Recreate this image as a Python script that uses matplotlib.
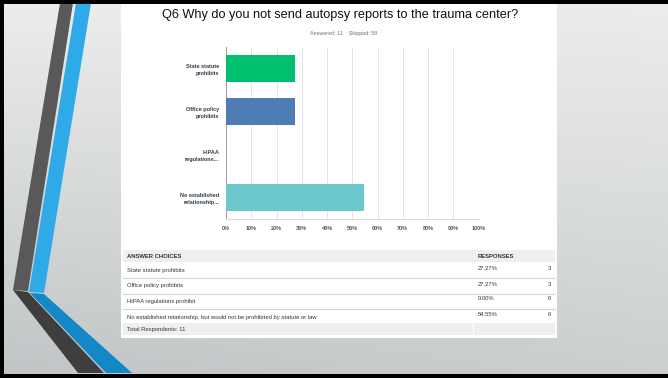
import numpy as np
import matplotlib
matplotlib.use("Agg")
import matplotlib.pyplot as plt
from matplotlib.patches import Polygon, Rectangle

# survey results
question = "Q6 Why do you not send autopsy reports to the trauma center?"
answered = 11
skipped = 58
choices = ["State statute prohibits",
           "Office policy prohibits",
           "HIPAA regulations prohibit",
           "No established relationship, but would not be prohibited by statute or law"]
short_labels = ["State statute\nprohibits", "Office policy\nprohibits",
                "HIPAA\nregulations...", "No established\nrelationship..."]
percents = [27.27, 27.27, 0.00, 54.55]
counts = [3, 3, 0, 6]
bar_colors = ["#00bf6f", "#507cb6", "#f9be00", "#6bc8cd"]
xticks = list(range(0, 101, 10))

W, H = 668, 378
plt.rcParams['font.family'] = ['Liberation Sans', 'DejaVu Sans']
fig = plt.figure(figsize=(W / 100, H / 100), dpi=100)

# slide canvas in pixel units
cv = fig.add_axes([0, 0, 1, 1])
cv.set_xlim(0, W)
cv.set_ylim(H, 0)
cv.axis("off")

# soft grey gradient background
yy, xx = np.mgrid[0:H, 0:W]
t = np.clip(0.75 * yy / H + 0.25 * (1 - xx / W) * yy / H, 0, 1)
top = np.array([0.925, 0.93, 0.93])
bot = np.array([0.755, 0.77, 0.775])
bg = top[None, None, :] * (1 - t[..., None]) + bot[None, None, :] * t[..., None]
cv.imshow(bg, extent=[0, W, H, 0], aspect="auto", zorder=0)

# decorative stripes on the left
cv.add_patch(Polygon([(60, 3), (73, 3), (28, 291), (13, 290)], closed=True,
                     fc="#595959", ec="none", zorder=1))
cv.add_patch(Polygon([(76, 3), (91, 3), (44, 293), (29, 292)], closed=True,
                     fc="#2eaae9", ec="none", zorder=1))
cv.add_patch(Polygon([(13, 290), (28, 292), (104, 373), (78, 373)], closed=True,
                     fc="#3e3e3e", ec="none", zorder=1))
cv.add_patch(Polygon([(30, 293), (44, 294), (132, 373), (106, 373)], closed=True,
                     fc="#1388c9", ec="none", zorder=1))

# black slide border
cv.add_patch(Rectangle((0, 0), W, 4, fc="black", ec="none", zorder=5))
cv.add_patch(Rectangle((0, 0), 3.5, H, fc="black", ec="none", zorder=5))
cv.add_patch(Rectangle((0, 373.5), W, 5, fc="black", ec="none", zorder=5))

# white content panel
cv.add_patch(Rectangle((120.5, 4), 436.5, 334, fc="white", ec="none", zorder=2))

cv.text(340, 15, question, ha="center", va="center", fontsize=9.2,
        color="#111111", zorder=3)
cv.text(344, 34, f"Answered: {answered}    Skipped: {skipped}", ha="center",
        va="center", fontsize=3.9, color="#707070", zorder=3)

# results table
tx0, tx1 = 123, 555
cv.add_patch(Rectangle((tx0, 250), tx1 - tx0, 12, fc="#efefef", ec="none", zorder=3))
cv.text(127, 256, "ANSWER CHOICES", fontsize=4.2, fontweight="bold",
        color="#333333", va="center", zorder=4)
cv.text(478, 256, "RESPONSES", fontsize=4.2, fontweight="bold",
        color="#333333", va="center", zorder=4)
row_y = [270.5, 286, 301, 317]
sep_y = [278, 293.5, 308.5]
for i, (c, p, n) in enumerate(zip(choices, percents, counts)):
    cv.text(127, row_y[i], c, fontsize=4.2, color="#333333", va="center", zorder=4)
    cv.text(478, row_y[i] - 2, f"{p:.2f}%", fontsize=4.2, color="#333333",
            va="center", zorder=4)
    cv.text(551, row_y[i] - 2, str(n), fontsize=4.2, color="#333333",
            va="center", ha="right", zorder=4)
for y in sep_y:
    cv.plot([tx0, tx1], [y, y], color="#d4d4d4", lw=0.8, zorder=3)
cv.add_patch(Rectangle((tx0, 323), tx1 - tx0, 12, fc="#efefef", ec="none", zorder=3))
cv.plot([473, 473], [323, 335], color="white", lw=0.8, zorder=3)
cv.text(127, 329, f"Total Respondents: {answered}", fontsize=4.2,
        color="#333333", va="center", zorder=4)

# horizontal bar chart
ax = fig.add_axes([226 / W, (H - 219) / H, 252.5 / W, 172 / H])
ax.set_facecolor("white")
ypos = np.arange(len(percents))
ax.barh(ypos, percents, height=0.63, color=bar_colors, zorder=3)
ax.set_xlim(0, 100)
ax.set_ylim(len(percents) - 0.5, -0.5)
ax.set_xticks(xticks)
ax.set_xticklabels([f"{v}%" for v in xticks], fontsize=4.0, color="#4e5860",
                   fontweight="bold")
ax.set_yticks(ypos)
ax.set_yticklabels(short_labels, fontsize=4.0, fontweight="bold",
                   color="#333e48", linespacing=1.5)
ax.tick_params(length=0, pad=5)
ax.grid(axis="x", color="#e4e4e4", lw=0.7, zorder=0)
for s in ["top", "right"]:
    ax.spines[s].set_visible(False)
ax.spines["left"].set_color("#9a9a9a")
ax.spines["left"].set_linewidth(0.7)
ax.spines["bottom"].set_color("#d8d8d8")
ax.spines["bottom"].set_linewidth(0.7)

fig.savefig("out.png", dpi=100)
